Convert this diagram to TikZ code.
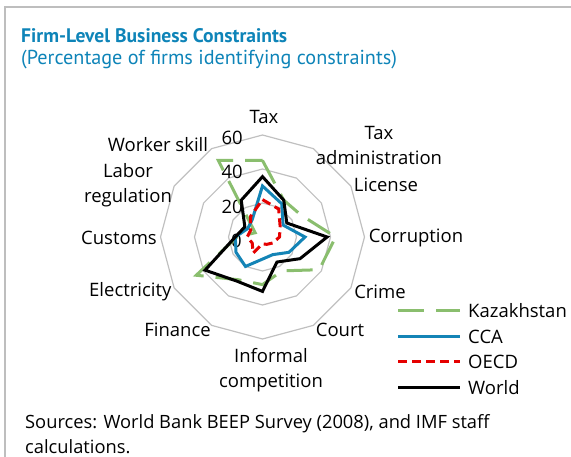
\documentclass[tikz,border=0pt]{standalone}
\usepackage{fontspec}
\setmainfont{Open Sans}
\newfontfamily\titlefont{PT Sans}
\usetikzlibrary{calc}
\definecolor{titleblue}{RGB}{14,132,184}
\definecolor{kazgreen}{RGB}{138,190,110}
\definecolor{ccablue}{RGB}{20,132,182}
\definecolor{ringgray}{RGB}{192,192,192}
\definecolor{framegray}{RGB}{190,190,190}
\begin{document}
\begin{tikzpicture}[x=1pt,y=-1pt,
  ring/.style={draw=ringgray,line width=1.2pt},
  kazline/.style={draw=kazgreen,line width=3pt,dash pattern=on 26pt off 12pt},
  ccaline/.style={draw=ccablue,line width=3pt,line join=miter},
  oecdline/.style={draw=red!90!black,line width=3pt,dash pattern=on 9pt off 5pt},
  worldline/.style={draw=black,line width=3pt,line join=miter},
  lab/.style={font=\fontsize{18.5}{25}\selectfont,inner sep=0pt,anchor=center},
  ticklab/.style={font=\fontsize{18.5}{20}\selectfont,inner sep=0pt,anchor=east},
  leglab/.style={font=\fontsize{18.5}{20}\selectfont,inner sep=0pt,anchor=west},
  note/.style={font=\fontsize{18.3}{20}\selectfont,inner sep=0pt,anchor=west}]
\useasboundingbox (0,0) rectangle (571,457);
% frame
\coordinate (f1) at (5,457); \coordinate (f2) at (5,7); \coordinate (f3) at (571,7);
\draw[draw=framegray,line width=1.5pt] (f1) -- (f2) -- (f3);
% title
\node[inner sep=0pt,anchor=west,text=titleblue,font=\titlefont\bfseries\fontsize{19.6}{22}\selectfont] (title) at (21,36) {Firm-Level Business Constraints};
\node[inner sep=0pt,anchor=west,text=titleblue,font=\titlefont\fontsize{20.2}{22}\selectfont] (subtitle) at (21,60) {(Percentage of firms identifying constraints)};
% radar
\coordinate (c) at (262.5,237);
\foreach \R in {34,68,102}
  \draw[ring] ($(c)+(-90:\R)$) \foreach \k in {1,...,11}{ -- ($(c)+({-90+30*\k}:\R)$)} -- cycle;
% tick labels
\node[ticklab] (t60) at (243,138) {60};
\node[ticklab] (t40) at (243,172) {40};
\node[ticklab] (t20) at (243,207) {20};
\node[ticklab] (t0) at (242,241) {0};
% data: Tax, TaxAdmin, License, Corruption, Crime, Court, Informal, Finance, Electricity, Customs, Labor, Worker
\foreach \v [count=\i from 0] in {45,25,26,43,38.5,23,28,29,45,15,5,52}
  \coordinate (K\i) at ($(c)+({-90+30*\i}:{1.7*\v})$);
\foreach \v [count=\i from 0] in {30,22.6,14,25,18,12,13,20,18,16,10,12}
  \coordinate (C\i) at ($(c)+({-90+30*\i}:{1.7*\v})$);
\foreach \v [count=\i from 0] in {22,19,12,10,7,5,4,11,7,9,8,14}
  \coordinate (O\i) at ($(c)+({-90+30*\i}:{1.7*\v})$);
\foreach \v [count=\i from 0] in {35.5,25,16.5,38,25.5,17,32,30,39,16,12,25}
  \coordinate (W\i) at ($(c)+({-90+30*\i}:{1.7*\v})$);
\draw[kazline] (K0) \foreach \i in {1,...,11}{ -- (K\i)} -- cycle;
\draw[ccaline] (C0) \foreach \i in {1,...,11}{ -- (C\i)} -- cycle;
\draw[oecdline] (O0) \foreach \i in {1,...,11}{ -- (O\i)} -- cycle;
\draw[worldline] (W0) \foreach \i in {1,...,11}{ -- (W\i)} -- cycle;
% category labels
\node[lab] (lTax) at (264,117) {Tax};
\node[lab,align=center] (lTaxAdm) at (379,145.5) {Tax\\administration};
\node[lab] (lLic) at (386,185) {License};
\node[lab] (lCor) at (416,238) {Corruption};
\node[lab] (lCri) at (380,292) {Crime};
\node[lab] (lCou) at (340,330) {Court};
\node[lab,align=center] (lInf) at (271,370) {Informal\\competition};
\node[lab] (lFin) at (177.5,330) {Finance};
\node[lab] (lEle) at (130.3,292) {Electricity};
\node[lab] (lCus) at (119,238) {Customs};
\node[lab,align=center] (lLab) at (128,185) {Labor\\regulation};
\node[lab] (lWor) at (158,145) {Worker skill};
% legend
\coordinate (g1a) at (398,311); \coordinate (g1b) at (460,311);
\coordinate (g2a) at (398,336.5); \coordinate (g2b) at (460,336.5);
\coordinate (g3a) at (398,362); \coordinate (g3b) at (460,362);
\coordinate (g4a) at (398,387.5); \coordinate (g4b) at (460,387.5);
\draw[kazline] (g1a) -- (g1b);
\draw[ccaline] (g2a) -- (g2b);
\draw[oecdline] (g3a) -- (g3b);
\draw[worldline] (g4a) -- (g4b);
\node[leglab] (k1) at (468,311) {Kazakhstan};
\node[leglab] (k2) at (468,336.5) {CCA};
\node[leglab] (k3) at (468,362) {OECD};
\node[leglab] (k4) at (468,387.5) {World};
% source
\node[note] (src1) at (25,424) {Sources: World Bank BEEP Survey (2008), and IMF staff};
\node[note] (src2) at (25,446.5) {calculations.};
\end{tikzpicture}
\end{document}
